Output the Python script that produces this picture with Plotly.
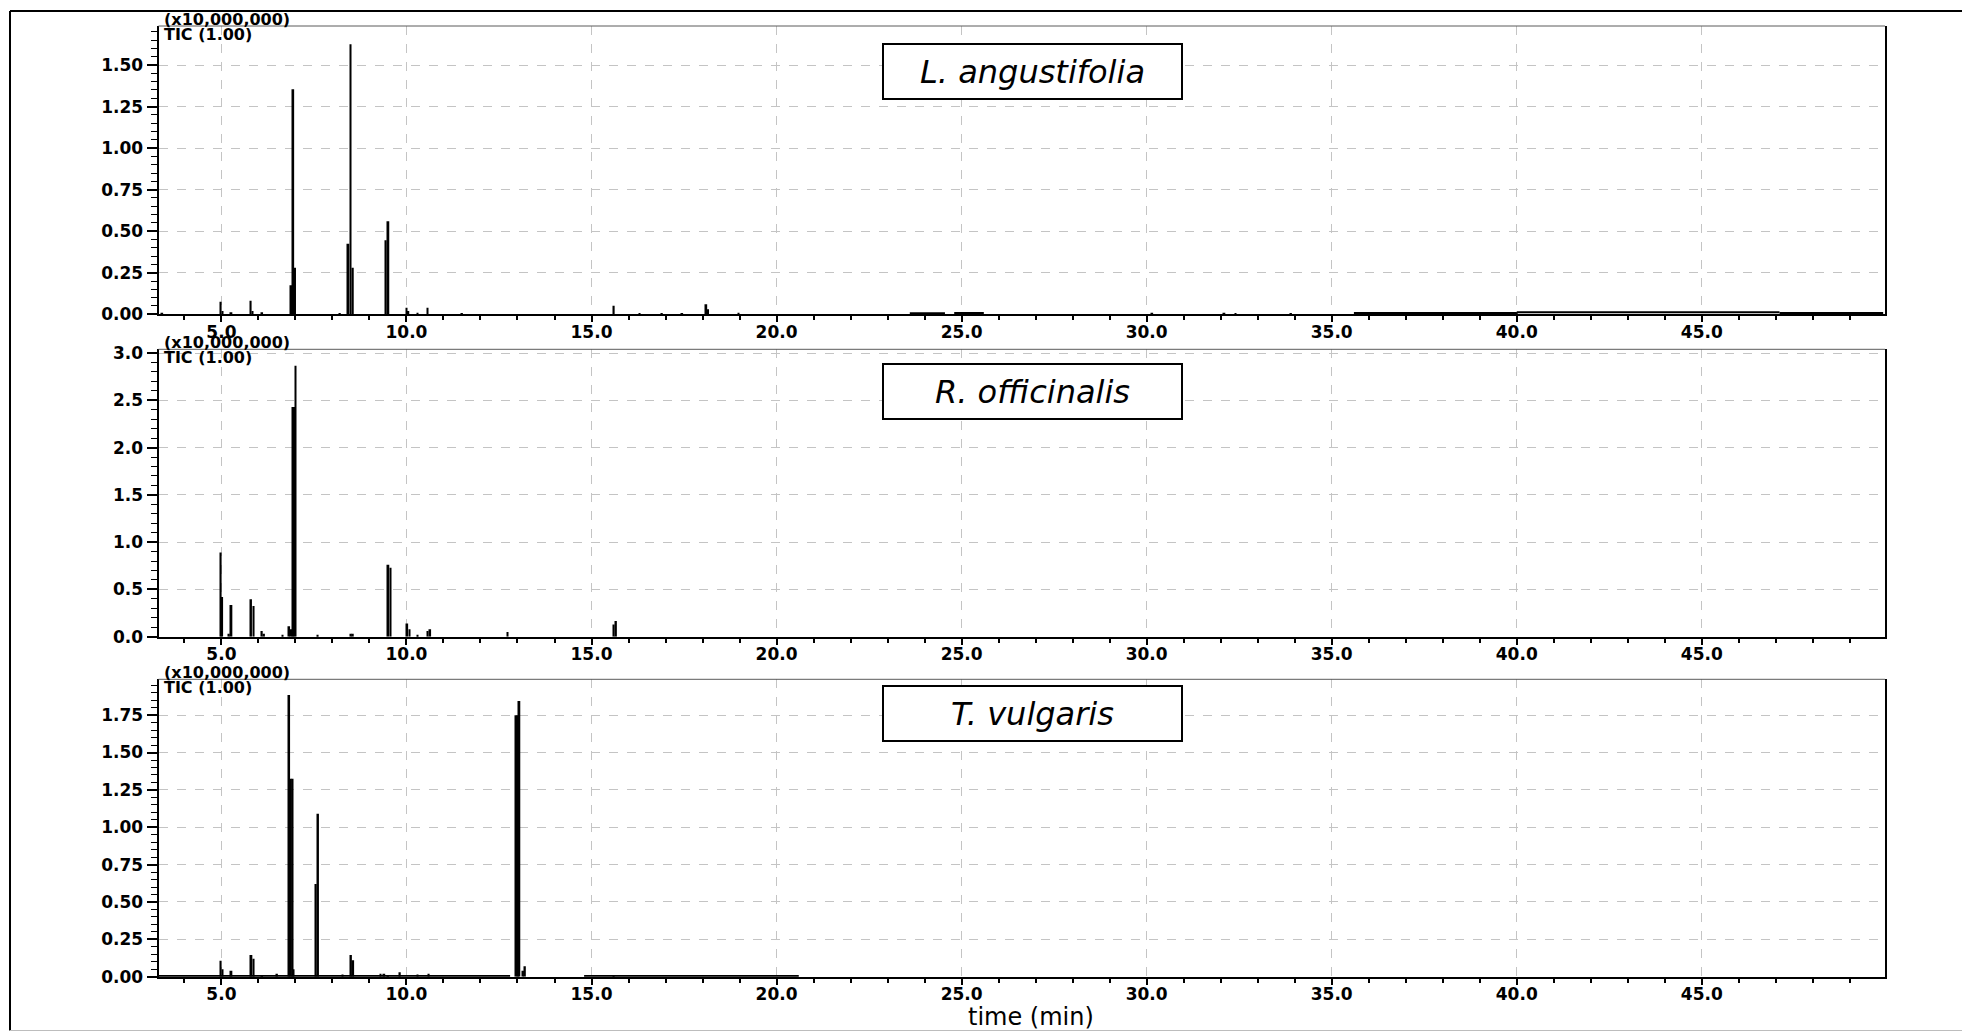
import plotly.graph_objects as go

W, H = 1962, 1032

# ---------------- data (retention time in min, intensity in x10,000,000) ----------------
la_name = "L. angustifolia"
la_t = [3.40, 4.98, 5.03, 5.27, 5.79, 5.84, 6.10, 6.89, 6.94, 6.99, 8.20, 8.43, 8.49, 8.55,
        9.44, 9.51, 10.00, 10.05, 10.30, 10.57, 11.50, 15.60, 16.30, 16.90, 17.45, 18.10,
        18.15, 18.97, 25.30, 30.15, 32.10, 32.40, 33.90, 37.30, 38.90, 40.00, 47.50, 48.20, 49.80]
la_v = [0.010, 0.076, 0.020, 0.012, 0.082, 0.020, 0.012, 0.175, 1.355, 0.280, 0.006, 0.425, 1.625, 0.280,
        0.445, 0.560, 0.040, 0.020, 0.010, 0.040, 0.005, 0.052, 0.005, 0.005, 0.005, 0.060,
        0.030, 0.010, 0.012, 0.010, 0.010, 0.008, 0.005, 0.012, 0.010, 0.012, 0.010, 0.010, 0.010]
la_base_t = [23.6, 24.55, None, 24.8, 25.6, None, 35.6, 40.0, None, 40.0, 47.1, None, 47.1, 49.9]
la_base_v = [0.006, 0.006, None, 0.008, 0.008, None, 0.008, 0.008, None, 0.013, 0.013, None, 0.008, 0.008]

ro_name = "R. officinalis"
ro_t = [4.98, 5.02, 5.20, 5.27, 5.80, 5.87, 6.09, 6.15, 6.65, 6.83, 6.89, 6.93, 6.97, 7.00,
        7.60, 8.50, 8.55, 9.51, 9.57, 10.02, 10.08, 10.30, 10.57, 10.64, 12.73, 15.60, 15.66]
ro_v = [0.890, 0.420, 0.030, 0.335, 0.395, 0.325, 0.060, 0.030, 0.020, 0.110, 0.080, 2.430, 2.430, 2.865,
        0.020, 0.030, 0.030, 0.760, 0.730, 0.140, 0.080, 0.020, 0.060, 0.080, 0.050, 0.130, 0.165]

tv_name = "T. vulgaris"
tv_t = [4.98, 5.03, 5.27, 5.81, 5.87, 6.10, 6.50, 6.83, 6.88, 6.92, 6.95, 7.55, 7.61, 8.27,
        8.50, 8.56, 9.30, 9.40, 9.50, 9.82, 10.30, 10.60, 12.97, 13.01, 13.05, 13.15, 13.20, 15.60]
tv_v = [0.107, 0.050, 0.040, 0.145, 0.120, 0.010, 0.020, 1.885, 1.325, 1.325, 0.050, 0.620, 1.090, 0.015,
        0.145, 0.110, 0.020, 0.020, 0.010, 0.030, 0.015, 0.020, 1.750, 1.750, 1.845, 0.040, 0.070, 0.010]
tv_base_t = [3.3, 12.8, None, 14.8, 20.6]
tv_base_v = [0.004, 0.004, None, 0.004, 0.004]

x_range = [3.3, 49.95]
y_ranges = [[0, 1.735], [0, 3.04], [0, 1.99]]
y_dticks = [0.25, 0.5, 0.25]
y_minor = [0.05, 0.1, 0.05]
y_formats = [".2f", ".1f", ".2f"]
scale_label = "(x10,000,000)"
tic_label = "TIC (1.00)"
x_title = "time (min)"

# ---------------- layout geometry (pixels) ----------------
x_left, x_right = 158.5, 1885.0
panel_px = [(26.0, 314.3), (349.3, 636.7), (679.3, 976.7)]
box_centers_px = [71.7, 391.7, 713.9]


def py(p):
    return 1 - p / H


fig = go.Figure()
names = [la_name, ro_name, tv_name]
series = [(la_t, la_v), (ro_t, ro_v), (tv_t, tv_v)]
bases = [(la_base_t, la_base_v), None, (tv_base_t, tv_base_v)]

tick_font = dict(family="DejaVu Sans", size=17, color="black", weight="bold")
small_font = dict(family="DejaVu Sans", size=16, color="black", weight="bold")

for i in range(3):
    xa = "x" if i == 0 else f"x{i+1}"
    ya = "y" if i == 0 else f"y{i+1}"
    t, v = series[i]
    fig.add_trace(go.Bar(x=t, y=v, width=0.05, xaxis=xa, yaxis=ya,
                         marker=dict(color="black", line=dict(width=0)),
                         showlegend=False, name=names[i]))
    if bases[i] is not None:
        bt, bv = bases[i]
        fig.add_trace(go.Scatter(x=bt, y=bv, mode="lines", xaxis=xa, yaxis=ya,
                                 line=dict(color="black", width=2), connectgaps=False,
                                 showlegend=False, hoverinfo="skip"))

    top, bot = panel_px[i]
    xkey = "xaxis" if i == 0 else f"xaxis{i+1}"
    ykey = "yaxis" if i == 0 else f"yaxis{i+1}"
    fig.update_layout(**{
        xkey: dict(domain=[x_left / W, x_right / W], range=x_range, anchor=ya,
                   tickmode="linear", tick0=0, dtick=5, tickformat=".1f",
                   ticks="outside", ticklen=6, tickwidth=2, tickcolor="black",
                   ticklabelstandoff=-5,
                   showline=True, linecolor="black", linewidth=2, mirror=False,
                   showgrid=True, gridcolor="#c4c4c4", griddash="dash", gridwidth=1,
                   zeroline=False, automargin=False, tickfont=tick_font,
                   minor=dict(dtick=1, tick0=0, ticks="outside", ticklen=4, tickwidth=2,
                              tickcolor="black", showgrid=False)),
        ykey: dict(domain=[py(bot), py(top)], range=y_ranges[i], anchor=xa,
                   tickmode="linear", tick0=0, dtick=y_dticks[i], tickformat=y_formats[i],
                   ticks="outside", ticklen=10, tickwidth=2, tickcolor="black",
                   showline=True, linecolor="black", linewidth=2, mirror=True,
                   showgrid=True, gridcolor="#c4c4c4", griddash="dash", gridwidth=1,
                   zeroline=False, automargin=False, tickfont=tick_font,
                   minor=dict(dtick=y_minor[i], tick0=0, ticks="outside", ticklen=6, tickwidth=1,
                              tickcolor="black", showgrid=False)),
    })

    # top border of plot area
    fig.add_shape(type="line", xref=f"{xa} domain", yref=f"{ya} domain",
                  x0=0, x1=1, y0=1, y1=1, line=dict(color="#5a5a5a", width=1))

    # scale and TIC labels
    fig.add_annotation(text=scale_label, xref="paper", yref="paper",
                       x=226.5 / W, y=py(top - 7), xanchor="center", yanchor="middle",
                       showarrow=False, font=small_font)
    fig.add_annotation(text=tic_label, xref="paper", yref="paper",
                       x=161.5 / W, y=py(top + 8.5), xanchor="left", yanchor="middle",
                       showarrow=False, font=small_font)

    # species label box
    fig.add_annotation(text=names[i], xref="paper", yref="paper",
                       x=1032.8 / W, y=py(box_centers_px[i]), xanchor="center", yanchor="middle",
                       showarrow=False, width=297, height=53, align="center", valign="middle",
                       bordercolor="black", borderwidth=2, borderpad=0, bgcolor="white",
                       font=dict(family="DejaVu Sans", size=32, color="black", style="italic"))

# x-axis title
fig.add_annotation(text=x_title, xref="paper", yref="paper", x=1031 / W, y=py(1017),
                   xanchor="center", yanchor="middle", showarrow=False,
                   font=dict(family="DejaVu Sans", size=24, color="black"))

# outer frame
fig.add_shape(type="line", xref="paper", yref="paper", x0=10 / W, x1=1, y0=py(11), y1=py(11),
              line=dict(color="black", width=2))
fig.add_shape(type="line", xref="paper", yref="paper", x0=10 / W, x1=10 / W, y0=py(11), y1=py(1030.5),
              line=dict(color="black", width=2))
fig.add_shape(type="line", xref="paper", yref="paper", x0=10 / W, x1=1, y0=py(1030.5), y1=py(1030.5),
              line=dict(color="#bdbdbd", width=1))

fig.update_layout(width=W, height=H, autosize=False,
                  margin=dict(l=0, r=0, t=0, b=0, pad=0),
                  paper_bgcolor="white", plot_bgcolor="white",
                  barmode="overlay", showlegend=False)

fig.write_html("out.html")
